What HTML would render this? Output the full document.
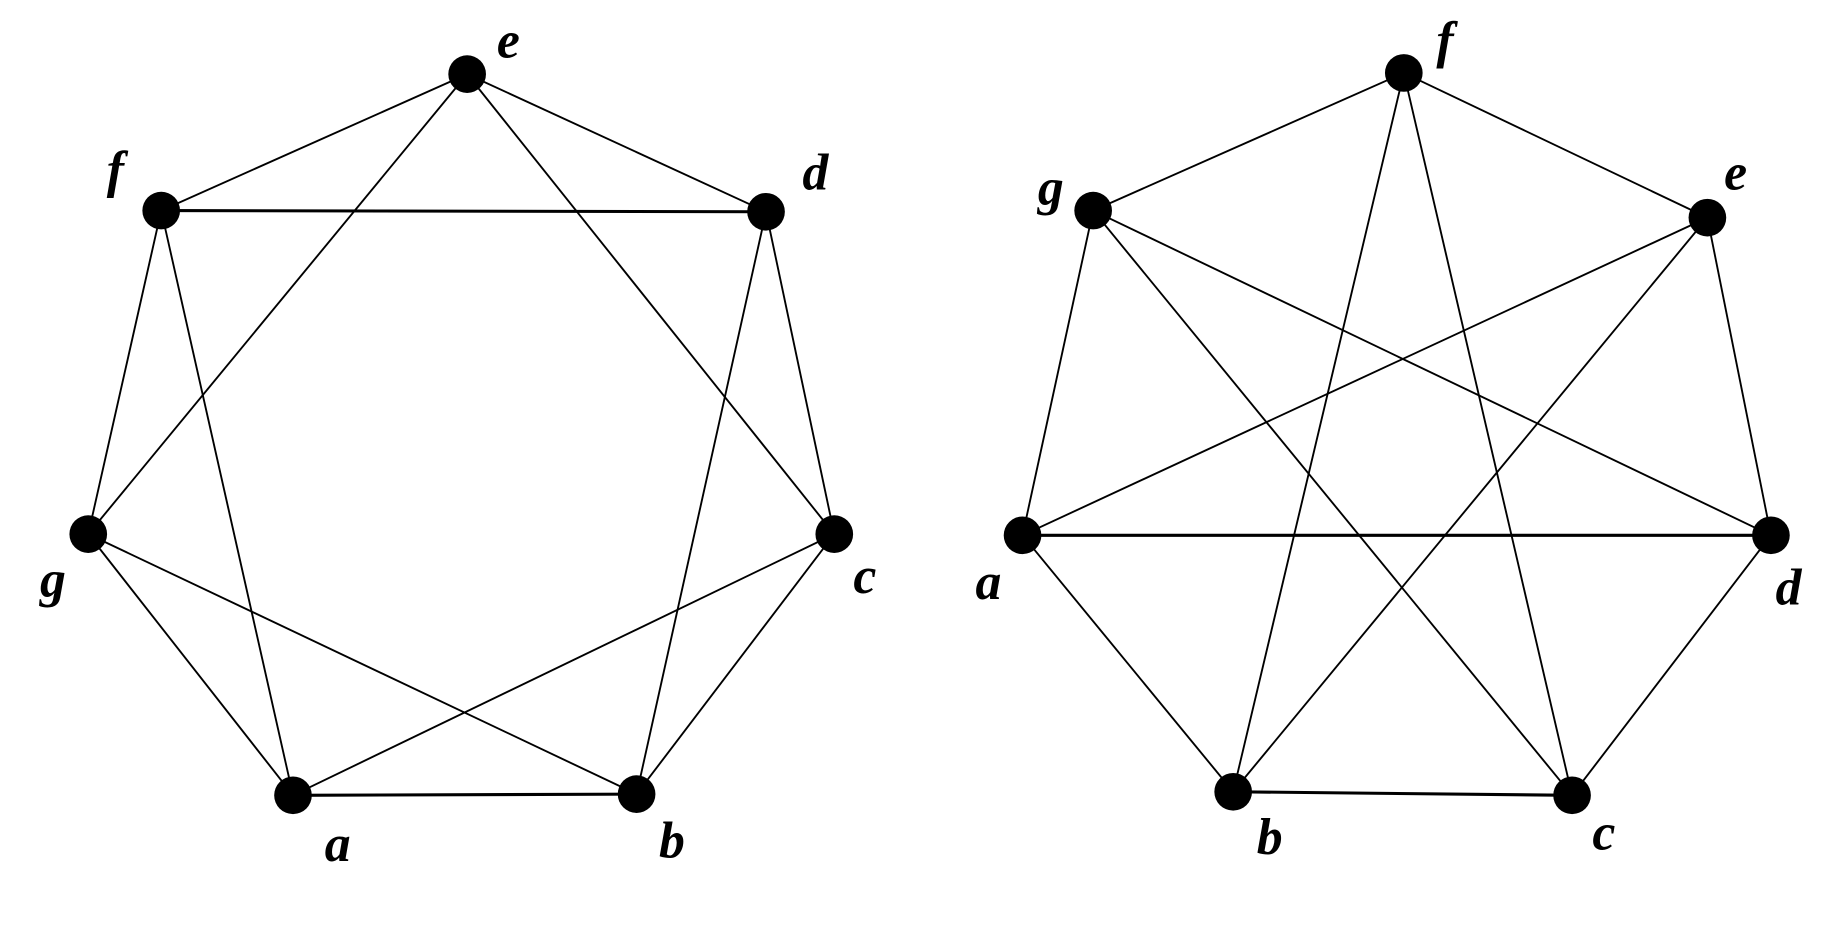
<!DOCTYPE html>
<html><head><meta charset="utf-8"><style>html,body{margin:0;padding:0;background:#fff;}svg{display:block}</style></head>
<body>
<svg width="1838" height="940" viewBox="0 0 1562 799" preserveAspectRatio="none" xmlns="http://www.w3.org/2000/svg">
<rect width="1562" height="799" fill="#fff"/>
<g stroke="#000" stroke-width="1.6" fill="none">
<!-- left -->
<line x1="397" y1="63" x2="137" y2="179"/>
<line x1="397" y1="63" x2="651" y2="180"/>
<line x1="397" y1="63" x2="75" y2="454"/>
<line x1="397" y1="63" x2="709" y2="454"/>
<line x1="137" y1="179" x2="651" y2="180" stroke-width="2.6"/>
<line x1="137" y1="179" x2="75" y2="454"/>
<line x1="137" y1="179" x2="249" y2="676"/>
<line x1="651" y1="180" x2="709" y2="454"/>
<line x1="651" y1="180" x2="541" y2="675"/>
<line x1="709" y1="454" x2="541" y2="675"/>
<line x1="709" y1="454" x2="249" y2="676"/>
<line x1="75" y1="454" x2="249" y2="676"/>
<line x1="75" y1="454" x2="541" y2="675"/>
<line x1="249" y1="676" x2="541" y2="675" stroke-width="2.6"/>
<!-- right -->
<line x1="1193" y1="62" x2="929" y2="179"/>
<line x1="1193" y1="62" x2="1451" y2="185"/>
<line x1="1193" y1="62" x2="1048" y2="673"/>
<line x1="1193" y1="62" x2="1336" y2="676"/>
<line x1="929" y1="179" x2="869" y2="455"/>
<line x1="929" y1="179" x2="1505" y2="455"/>
<line x1="929" y1="179" x2="1336" y2="676"/>
<line x1="1451" y1="185" x2="869" y2="455"/>
<line x1="1451" y1="185" x2="1048" y2="673"/>
<line x1="1451" y1="185" x2="1505" y2="455"/>
<line x1="869" y1="455" x2="1505" y2="455" stroke-width="2.6"/>
<line x1="869" y1="455" x2="1048" y2="673"/>
<line x1="1505" y1="455" x2="1336" y2="676"/>
<line x1="1048" y1="673" x2="1336" y2="676" stroke-width="2.6"/>
</g>
<g fill="#000">
<circle cx="397" cy="63" r="16"/><circle cx="651" cy="180" r="16"/><circle cx="709" cy="454" r="16"/><circle cx="541" cy="675" r="16"/><circle cx="249" cy="676" r="16"/><circle cx="75" cy="454" r="16"/><circle cx="137" cy="179" r="16"/>
<circle cx="1193" cy="62" r="16"/><circle cx="929" cy="179" r="16"/><circle cx="1451" cy="185" r="16"/><circle cx="869" cy="455" r="16"/><circle cx="1505" cy="455" r="16"/><circle cx="1048" cy="673" r="16"/><circle cx="1336" cy="676" r="16"/>
</g>
<g font-family="Liberation Serif, serif" font-weight="bold" font-style="italic" font-size="44" text-anchor="middle" dominant-baseline="central">
<text x="432" y="35">e</text><text x="693" y="147">d</text><text x="735" y="490">c</text><text x="571" y="715">b</text><text x="287" y="718">a</text><text x="45" y="493">g</text><text x="98" y="145">f</text>
<text x="1228" y="35">f</text><text x="893" y="160">g</text><text x="1475" y="147">e</text><text x="840" y="495">a</text><text x="1520" y="500">d</text><text x="1079" y="712">b</text><text x="1363" y="708">c</text>
</g>
</svg>
</body></html>
